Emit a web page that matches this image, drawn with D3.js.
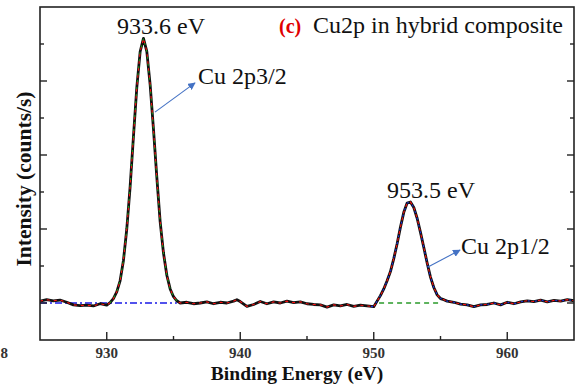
<!DOCTYPE html>
<html><head><meta charset="utf-8">
<script src="https://cdn.jsdelivr.net/npm/d3@7"></script>
<style>body{margin:0;background:#fff}svg{display:block}</style>
</head><body>
<svg id="c" width="578" height="386"></svg>
<script>
// ---- data ----
const energy = [925,925.5,926,926.5,927,927.5,928,928.5,929,929.5,930,930.25,930.5,930.75,931,931.25,931.5,931.75,932,932.25,932.5,932.75,933,933.25,933.5,933.75,934,934.25,934.5,934.75,935,935.25,935.5,936,936.5,937,937.5,938,938.5,939,939.5,939.75,940,940.5,941,941.5,942,942.5,943,943.5,944,944.5,945,945.5,946,946.5,947,947.5,948,948.5,949,949.5,950,950.25,950.5,950.75,951,951.25,951.5,951.75,952,952.25,952.5,952.75,953,953.25,953.5,953.75,954,954.25,954.5,954.75,955,955.25,955.5,956,956.5,957,957.5,958,958.5,959,959.5,960,960.5,961,961.5,962,962.5,963,963.5,964,964.5,965];
const intensity = [0.05,0.09,0.06,0.08,0.02,-0.05,-0.07,-0.06,-0.08,-0.02,-0.06,0.01,0.12,0.3,0.6,1.15,2.0,3.14,4.5,5.82,6.79,7.15,6.8,5.9,4.7,3.4,2.2,1.35,0.75,0.38,0.17,0.06,0.0,0.02,-0.02,0.0,0.03,-0.02,0.02,0.0,0.05,0.09,0.04,-0.09,-0.04,0.04,-0.02,0.03,0.0,0.05,0.01,0.03,-0.02,-0.04,-0.05,-0.11,-0.05,-0.08,-0.04,-0.09,-0.06,-0.08,-0.1,0.05,0.2,0.38,0.6,0.85,1.2,1.6,2.05,2.45,2.7,2.73,2.58,2.29,1.91,1.5,1.08,0.7,0.42,0.22,0.12,0.09,0.05,0.02,-0.03,-0.05,-0.1,-0.05,-0.04,0.0,-0.05,0.02,-0.02,0.03,0.06,0.04,0.08,0.03,0.07,0.05,0.09,0.06];
const peak1Range = [930, 935.5];   // Cu 2p3/2 component
const peak2Range = [949.5, 965];   // Cu 2p1/2 component
const baseline1 = [925, 935.25];   // background under 2p3/2
const baseline2 = [950.4, 955.1];  // background under 2p1/2
const xMajorTicks = [930, 940, 950, 960];
const xMinorTicks = [935, 945, 955];
const yMajorTicks = [0, 2, 4, 6];
const yMinorTicks = [1, 3, 5, 7];
const peakLabels = ["933.6 eV", "953.5 eV"];
const componentLabels = ["Cu 2p3/2", "Cu 2p1/2"];

// ---- layout ----
const svg = d3.select("#c");
const L = 40, R = 574, T = 7, B = 340;
const x = d3.scaleLinear().domain([925, 965]).range([L, R]);
const y = d3.scaleLinear().domain([-1, 8]).range([B, T]);
const serif = "'Liberation Serif','Times New Roman',serif";

const data = energy.map((e, i) => ({e, v: intensity[i]}));
const line = d3.line().x(d => x(d.e)).y(d => y(d.v));

svg.append("clipPath").attr("id", "clip").append("rect")
  .attr("x", L).attr("y", T).attr("width", R - L).attr("height", B - T);
const plot = svg.append("g").attr("clip-path", "url(#clip)");

// baselines
plot.append("line").attr("x1", x(baseline1[0])).attr("x2", x(baseline1[1]))
  .attr("y1", y(0)).attr("y2", y(0))
  .attr("stroke", "#1a1ae6").attr("stroke-width", 1.3).attr("stroke-dasharray", "7,3,2,3");
plot.append("line").attr("x1", x(baseline2[0])).attr("x2", x(baseline2[1]))
  .attr("y1", y(0)).attr("y2", y(0))
  .attr("stroke", "#2a9a2a").attr("stroke-width", 1.3).attr("stroke-dasharray", "5,4");

// measured data
plot.append("path").datum(data).attr("d", line)
  .attr("fill", "none").attr("stroke", "#111").attr("stroke-width", 2.8).attr("stroke-linejoin", "round");
// fit envelope
plot.append("path").datum(data).attr("d", line)
  .attr("fill", "none").attr("stroke", "#ff1010").attr("stroke-width", 1.1).attr("stroke-dasharray", "3,4");
// components
plot.append("path").datum(data.filter(d => d.e >= peak1Range[0] && d.e <= peak1Range[1])).attr("d", line)
  .attr("fill", "none").attr("stroke", "#19a019").attr("stroke-width", 1.1).attr("stroke-dasharray", "2,5").attr("stroke-dashoffset", 3);
plot.append("path").datum(data.filter(d => d.e >= peak2Range[0] && d.e <= peak2Range[1])).attr("d", line)
  .attr("fill", "none").attr("stroke", "#2030e0").attr("stroke-width", 1.1).attr("stroke-dasharray", "2,5").attr("stroke-dashoffset", 3);

// frame
svg.append("rect").attr("x", L).attr("y", T).attr("width", R - L).attr("height", B - T)
  .attr("fill", "none").attr("stroke", "#222").attr("stroke-width", 1.6);

// ticks
const tk = svg.append("g").attr("stroke", "#222").attr("stroke-width", 1.4);
xMajorTicks.forEach(v => tk.append("line").attr("x1", x(v)).attr("x2", x(v)).attr("y1", B).attr("y2", B - 8));
xMinorTicks.forEach(v => tk.append("line").attr("x1", x(v)).attr("x2", x(v)).attr("y1", B).attr("y2", B - 4));
yMajorTicks.forEach(v => {
  tk.append("line").attr("x1", L).attr("x2", L + 7).attr("y1", y(v)).attr("y2", y(v));
  tk.append("line").attr("x1", R).attr("x2", R - 7).attr("y1", y(v)).attr("y2", y(v));
});
yMinorTicks.forEach(v => {
  tk.append("line").attr("x1", L).attr("x2", L + 4).attr("y1", y(v)).attr("y2", y(v));
  tk.append("line").attr("x1", R).attr("x2", R - 4).attr("y1", y(v)).attr("y2", y(v));
});

// tick labels
svg.append("g").selectAll("text").data(xMajorTicks).join("text")
  .attr("x", d => x(d)).attr("y", 358).attr("text-anchor", "middle")
  .attr("font-family", serif).attr("font-weight", "bold").attr("font-size", 15).attr("fill", "#333")
  .text(d => d);
svg.append("text").attr("x", 8).attr("y", 358).attr("text-anchor", "end")
  .attr("font-family", serif).attr("font-weight", "bold").attr("font-size", 15).attr("fill", "#333").text("8");

// axis titles
svg.append("text").attr("x", 297).attr("y", 380).attr("text-anchor", "middle")
  .attr("font-family", serif).attr("font-weight", "bold").attr("font-size", 19.5).attr("fill", "#111")
  .text("Binding Energy (eV)");
svg.append("text").attr("transform", "translate(31,179) rotate(-90)").attr("text-anchor", "middle")
  .attr("font-family", serif).attr("font-weight", "bold").attr("font-size", 21.5).attr("fill", "#111")
  .text("Intensity (counts/s)");

// title
svg.append("text").attr("x", 279).attr("y", 33)
  .attr("font-family", serif).attr("font-weight", "bold").attr("font-size", 20).attr("fill", "#e00000").text("(c)");
svg.append("text").attr("x", 313).attr("y", 33)
  .attr("font-family", serif).attr("font-size", 24).attr("fill", "#111").text("Cu2p in hybrid composite");

// peak labels
svg.append("text").attr("x", 117).attr("y", 34).attr("font-family", serif).attr("font-size", 24).attr("fill", "#111").text(peakLabels[0]);
svg.append("text").attr("x", 387).attr("y", 198).attr("font-family", serif).attr("font-size", 24).attr("fill", "#111").text(peakLabels[1]);
svg.append("text").attr("x", 198).attr("y", 84).attr("font-family", serif).attr("font-size", 24).attr("fill", "#111").text(componentLabels[0]);
svg.append("text").attr("x", 461).attr("y", 254).attr("font-family", serif).attr("font-size", 24).attr("fill", "#111").text(componentLabels[1]);

// arrows
const defs = svg.append("defs");
defs.append("marker").attr("id", "ah").attr("viewBox", "0 0 10 10").attr("refX", 9).attr("refY", 5)
  .attr("markerWidth", 7).attr("markerHeight", 7).attr("orient", "auto")
  .append("path").attr("d", "M0,0 L10,5 L0,10 z").attr("fill", "#4472c4");
const arrows = [[933.61, 5.16, 936.61, 5.95], [954.06, 0.97, 956.46, 1.43]];
arrows.forEach(a => svg.append("line")
  .attr("x1", x(a[0])).attr("y1", y(a[1])).attr("x2", x(a[2])).attr("y2", y(a[3]))
  .attr("stroke", "#4472c4").attr("stroke-width", 1.1).attr("marker-end", "url(#ah)"));
</script>
</body></html>
